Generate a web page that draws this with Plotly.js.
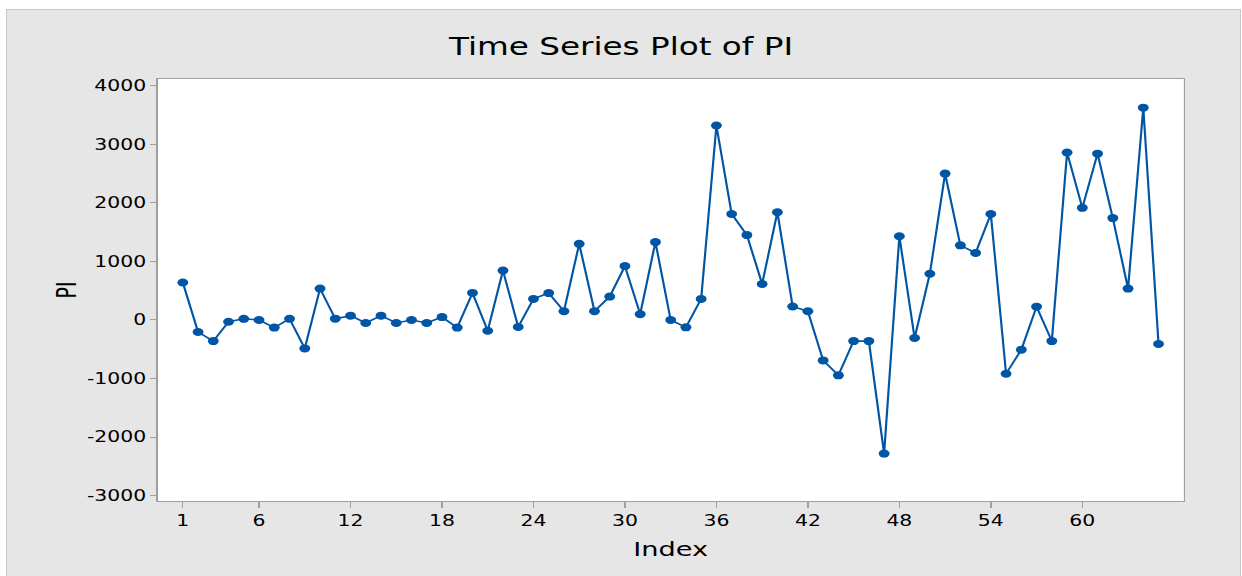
<!DOCTYPE html>
<html>
<head>
<meta charset="utf-8">
<script src="https://cdn.plot.ly/plotly-3.0.1.min.js"></script>
<style>
  html, body { margin: 0; padding: 0; background: #ffffff; overflow: hidden; }
  #frame {
    position: absolute; left: 6px; top: 9px; width: 1233px; height: 570px;
    background: #e6e6e6; border-left: 1px solid #c8c8c8; border-top: 1px solid #c8c8c8; border-right: 1px solid #c8c8c8;
  }
  #chart {
    position: absolute; left: 0; top: 0; width: 913px; height: 576px;
    transform: scaleX(1.3604); transform-origin: 0 0;
  }
</style>
</head>
<body>
<div id="frame"></div>
<div id="chart"></div>
<script>
// Data
const indexValues = [];
const piValues = [
  640, -205, -360, -30, 20, 0, -130, 20, -485, 536,
  22, 74, -51, 74, -51, 0, -51, 50, -130, 462,
  -183, 845, -120, 360, 460, 150, 1300, 150, 400, 920,
  100, 1330, 0, -125, 360, 3320, 1810, 1450, 615, 1840,
  230, 150, -690, -945, -360, -360, -2280, 1430, -308, 790,
  2500, 1275, 1145, 1810, -918, -507, 228, -360, 2860, 1915,
  2840, 1740, 536, 3625, -410
];
for (let i = 0; i < piValues.length; i++) indexValues.push(i + 1);
const xTickVals = [1, 6, 12, 18, 24, 30, 36, 42, 48, 54, 60];
const yTickVals = [-3000, -2000, -1000, 0, 1000, 2000, 3000, 4000];

const FONT = "DejaVu Sans, Verdana, sans-serif";
const BLUE = "#0055a5";

const trace = {
  x: indexValues,
  y: piValues,
  type: "scatter",
  mode: "lines+markers",
  line: { color: BLUE, width: 1.6 },
  marker: { color: BLUE, size: 8, symbol: "circle" },
  hoverinfo: "x+y"
};

const layout = {
  width: 913,
  height: 576,
  margin: { l: 116, r: 43, t: 79, b: 75, pad: 0 },
  paper_bgcolor: "rgba(0,0,0,0)",
  plot_bgcolor: "#ffffff",
  showlegend: false,
  font: { family: FONT, color: "#000000" },
  title: {
    text: "Time Series Plot of PI",
    font: { family: FONT, size: 24, color: "#000000" },
    xref: "container", x: 0.5, xanchor: "center",
    yref: "container", y: 1 - 47 / 576, yanchor: "middle"
  },
  xaxis: {
    range: [-0.64, 66.64],
    tickmode: "array",
    tickvals: xTickVals,
    ticktext: xTickVals.map(String),
    ticks: "outside", ticklen: 6, tickwidth: 1, tickcolor: "#a0a0a0",
    showline: true, mirror: true, linecolor: "#a0a0a0", linewidth: 1,
    showgrid: false, zeroline: false,
    tickfont: { family: FONT, size: 15, color: "#000000" },
    title: { text: "Index", font: { family: FONT, size: 20, color: "#000000" }, standoff: 13 }
  },
  yaxis: {
    range: [-3090, 4114],
    tickmode: "array",
    tickvals: yTickVals,
    ticktext: yTickVals.map(String),
    ticks: "outside", ticklen: 4.5, tickwidth: 1, tickcolor: "#a0a0a0",
    showline: true, mirror: true, linecolor: "#a0a0a0", linewidth: 1,
    showgrid: false, zeroline: false,
    tickfont: { family: FONT, size: 15, color: "#000000" },
    title: { text: "PI", font: { family: FONT, size: 19, color: "#000000" }, standoff: 2 }
  }
};

Plotly.newPlot("chart", [trace], layout, { displayModeBar: false, staticPlot: true });
</script>
</body>
</html>
